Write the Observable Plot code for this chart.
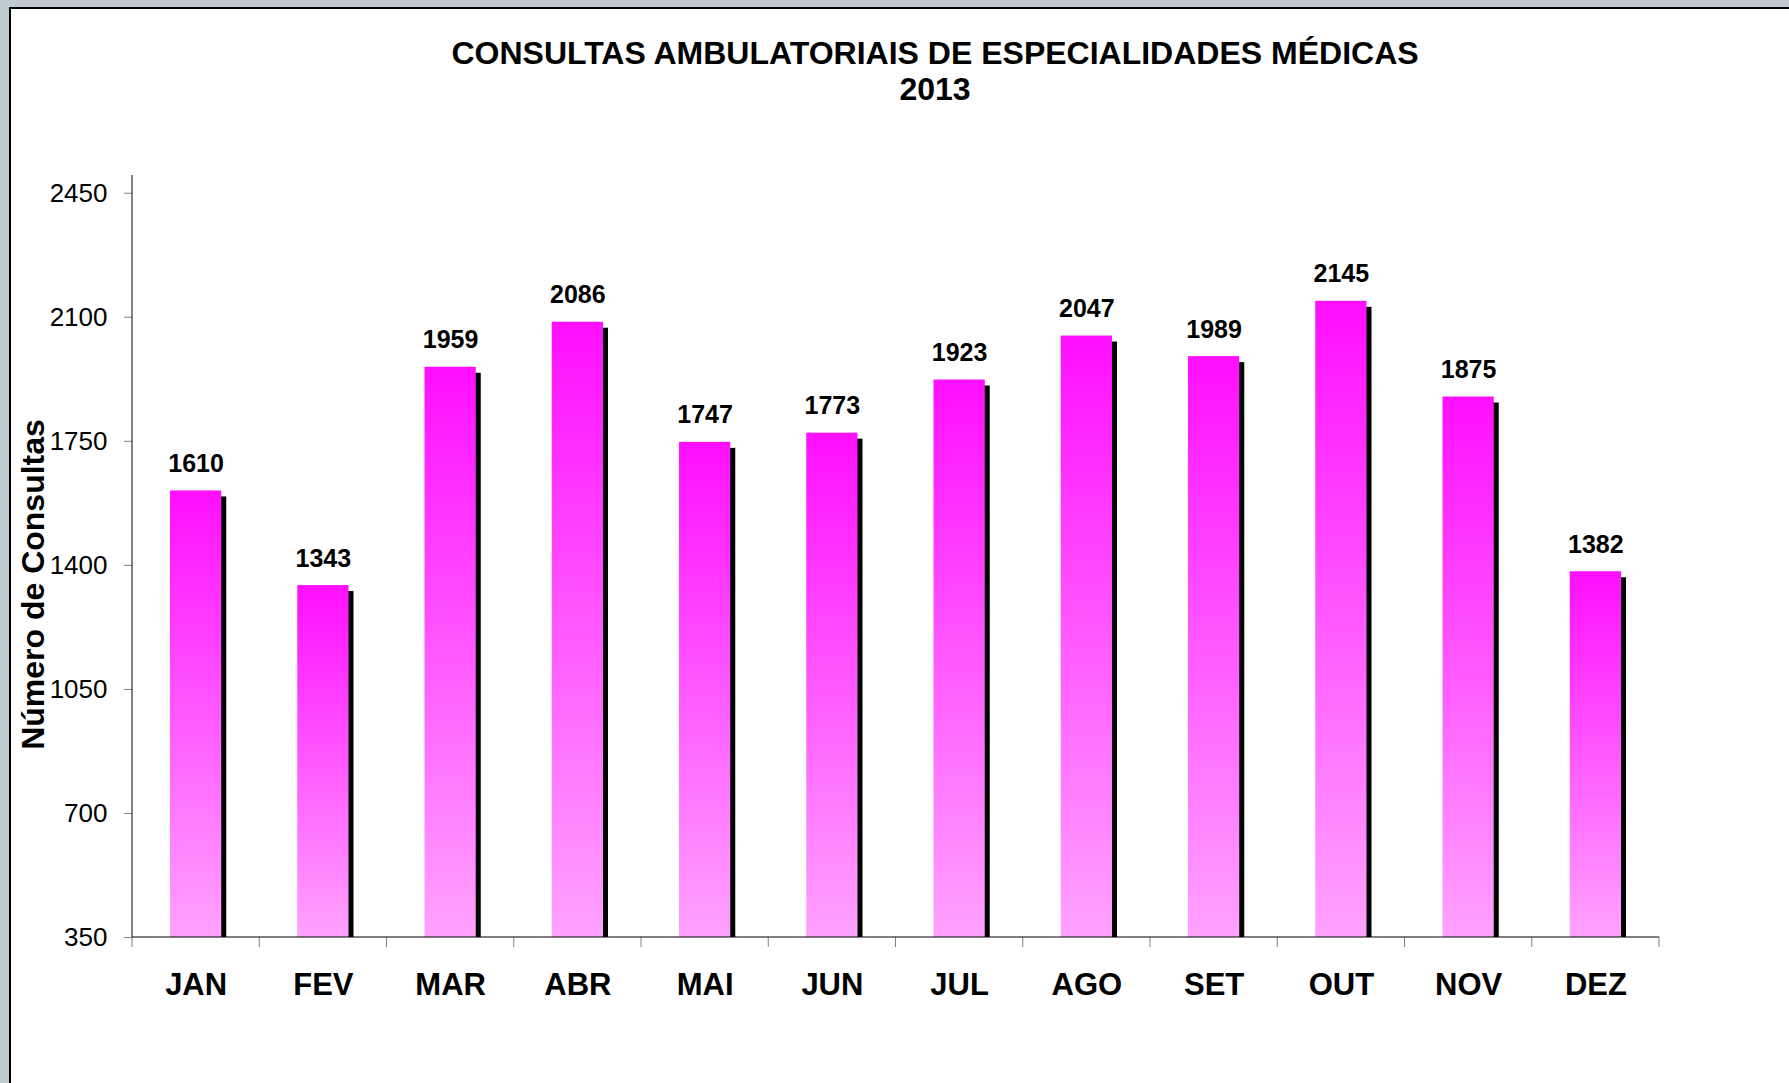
<!DOCTYPE html>
<html>
<head>
<meta charset="utf-8">
<script src="https://cdn.jsdelivr.net/npm/d3@7"></script>
<script src="https://cdn.jsdelivr.net/npm/@observablehq/plot@0.6"></script>
<style>
  html, body { margin: 0; padding: 0; }
  body {
    width: 1789px; height: 1083px; overflow: hidden; position: relative;
    background: #bfcbd1;
    font-family: "Liberation Sans", Arial, sans-serif;
  }
  #panel {
    position: absolute; left: 9px; top: 7px; width: 1800px; height: 1100px;
    border-left: 2px solid #000; border-top: 2px solid #000; background: #fff;
  }
  #title {
    position: absolute; left: 135px; top: 35px; width: 1600px;
    text-align: center; font-weight: bold; font-size: 32px; line-height: 36px; color: #000;
  }
  #chart { position: absolute; left: 0; top: 110px; }
</style>
</head>
<body>
<div id="panel"></div>
<div id="title"></div>
<div id="chart"></div>
<script>
const titleLines = ["CONSULTAS AMBULATORIAIS DE ESPECIALIDADES MÉDICAS", "2013"];
const yLabel = "Número de Consultas";
const months = ["JAN", "FEV", "MAR", "ABR", "MAI", "JUN", "JUL", "AGO", "SET", "OUT", "NOV", "DEZ"];
const consultas = [1610, 1343, 1959, 2086, 1747, 1773, 1923, 2047, 1989, 2145, 1875, 1382];
const yTicks = [350, 700, 1050, 1400, 1750, 2100, 2450];
const yDomain = [350, 2500];

const data = months.map((m, i) => ({month: m, value: consultas[i]}));

document.getElementById("title").innerHTML = titleLines.map(t => `<div>${t}</div>`).join("");

function gradientDefs() {
  const defs = d3.create("svg:defs");
  const g = defs.append("linearGradient").attr("id", "barGrad")
    .attr("x1", 0).attr("y1", 0).attr("x2", 0).attr("y2", 1);
  g.append("stop").attr("offset", "0%").attr("stop-color", "#ff0fff");
  g.append("stop").attr("offset", "100%").attr("stop-color", "#ffa2ff");
  return defs.node();
}

function axisLines(index, scales) {
  const {x, y} = scales;
  const bw = x.bandwidth();
  const x0 = x(months[0]);
  const x1 = x(months[months.length - 1]) + bw;
  const yb = y(yDomain[0]), yt = y(yDomain[1]);
  const g = d3.create("svg:g");
  const bounds = months.map(m => x(m)).concat([x1]);
  g.selectAll("line.tk").data(bounds).join("line")
    .attr("x1", d => d).attr("x2", d => d)
    .attr("y1", yb).attr("y2", yb + 10)
    .attr("stroke", "#808080");
  g.append("line").attr("x1", x0).attr("x2", x0).attr("y1", yt).attr("y2", yb).attr("stroke", "#000");
  g.append("line").attr("x1", x0).attr("x2", x1).attr("y1", yb).attr("y2", yb).attr("stroke", "#000");
  return g.node();
}

const chart = Plot.plot({
  width: 1789,
  height: 973,
  marginLeft: 132,
  marginRight: 130,
  marginTop: 65,
  marginBottom: 146,
  style: {background: "transparent", fontFamily: "'Liberation Sans', Arial, sans-serif", color: "#000", overflow: "visible"},
  x: {domain: months, padding: 0, round: false, label: null},
  y: {domain: yDomain, label: null},
  marks: [
    gradientDefs,
    Plot.barY(data, {x: "month", y1: yDomain[0], y2: "value", fill: "#000", dx: 5, insetTop: 6, insetLeft: 38, insetRight: 38}),
    Plot.barY(data, {x: "month", y1: yDomain[0], y2: "value", fill: "url(#barGrad)", insetLeft: 38, insetRight: 38}),
    Plot.text(data, {x: "month", y: "value", text: d => String(d.value), dy: -27, fontSize: 25, fontWeight: "bold", fill: "#000"}),
    Plot.axisY({ticks: yTicks, tickFormat: d => String(d), tickSize: 8, tickPadding: 17, fontSize: 26, stroke: "#808080", fill: "#000", label: null}),
    Plot.axisX({tickSize: 0, tickPadding: 35, fontSize: 31, fontWeight: "bold", fill: "#000", label: null}),
    axisLines,
    Plot.text([yLabel], {frameAnchor: "left", textAnchor: "middle", lineAnchor: "middle", rotate: -90, dx: -99, dy: 28, fontSize: 32, fontWeight: "bold", fill: "#000"})
  ]
});
document.getElementById("chart").appendChild(chart);
</script>
</body>
</html>
